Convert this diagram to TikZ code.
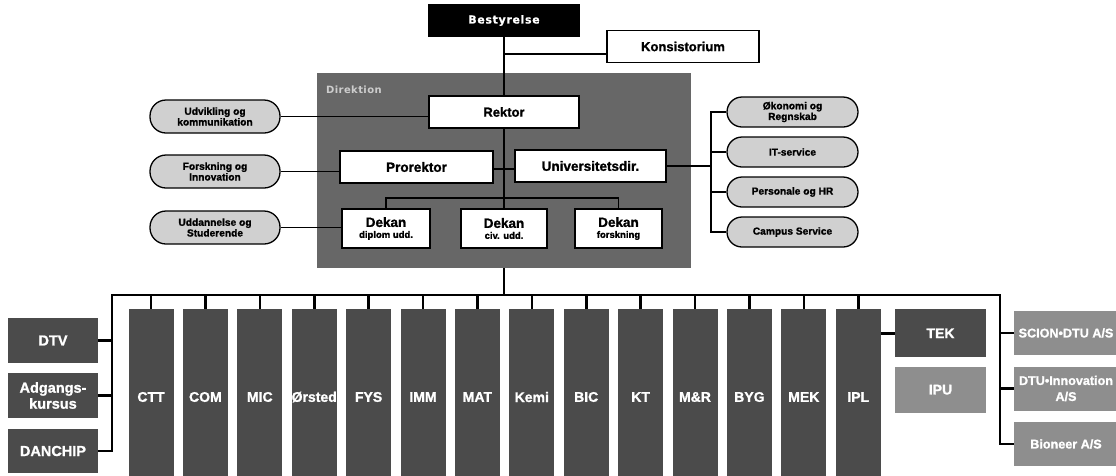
\documentclass[tikz,border=0pt]{standalone}
\usepackage{fontspec}
\setmainfont{Liberation Sans}[BoldFeatures={FakeBold=1.2}]
\newfontfamily\dejasp[LetterSpace=6,BoldFeatures={FakeBold=0.6}]{DejaVu Sans}
\newfontfamily\deja[LetterSpace=4]{DejaVu Sans}
\definecolor{colgray}{HTML}{4B4B4B}
\definecolor{dirgray}{HTML}{676767}
\definecolor{lightbox}{HTML}{8E8E8E}
\definecolor{pillgray}{HTML}{D0D0D0}
\definecolor{dirlabel}{HTML}{CDCDCD}
\tikzset{
  wbox/.style={draw=black, line width=1.6pt, fill=white, inner sep=0pt, align=center},
  pill/.style={draw=black, line width=1.3pt, fill=pillgray, inner sep=0pt, align=center,
    minimum width=130pt, font=\bfseries\fontsize{10.2}{10.7}\selectfont},
  colbox/.style={fill=colgray, inner sep=0pt, minimum width=45pt, minimum height=176pt,
    text=white, font=\bfseries\fontsize{14}{16}\selectfont},
  sidebox/.style={fill=colgray, inner sep=0pt, minimum width=90pt, minimum height=45pt,
    text=white, align=center, font=\bfseries\fontsize{14.5}{16}\selectfont},
  litebox/.style={fill=lightbox, inner sep=0pt, text=white, align=center},
  conn/.style={line width=1.5pt, draw=black},
  bar/.style={line width=2.6pt, draw=black, line join=miter},
}
\begin{document}
\begin{tikzpicture}[x=1pt,y=-1pt]
\useasboundingbox (0,0) rectangle (1116,475);
\clip (0,0) rectangle (1116,475);
\fill[white] (0,0) rectangle (1116,475);

% Direktion area
\node[fill=dirgray, inner sep=0pt, minimum width=374pt, minimum height=195pt] (dir) at (504,170.5) {};
\node[anchor=base west, inner sep=0pt, text=dirlabel, font=\deja\bfseries\fontsize{10}{12}\selectfont] (dirlbl) at (326,93) {Direktion};

% top
\node[fill=black, inner sep=0pt, minimum width=152pt, minimum height=33pt, text=white,
  font=\dejasp\bfseries\fontsize{11}{12}\selectfont] (best) at (504,20.5) {Bestyrelse};
\node[wbox, minimum width=152pt, minimum height=32pt, font=\bfseries\fontsize{13}{15}\selectfont] (kons) at (683,46.5) {Konsistorium};
\node[wbox, minimum width=150pt, minimum height=32pt, font=\bfseries\fontsize{13}{15}\selectfont] (rektor) at (504,112) {Rektor};
\node[wbox, minimum width=153pt, minimum height=32pt, font=\bfseries\fontsize{13.5}{15}\selectfont] (pro) at (416.5,167) {Prorektor};
\node[wbox, minimum width=151pt, minimum height=32pt, font=\bfseries\fontsize{13.5}{15}\selectfont] (uni) at (590.5,166) {Universitetsdir.};

\node[wbox, minimum width=88pt, minimum height=39pt] (dip) at (386,228.5)
  {{\fontsize{13.5}{14}\selectfont\bfseries Dekan}\\[-1pt]{\fontsize{9.5}{10}\selectfont\bfseries diplom udd.}};
\node[wbox, minimum width=86pt, minimum height=39pt] (civ) at (504,228.5)
  {{\fontsize{13.5}{14}\selectfont\bfseries Dekan}\\[-1pt]{\fontsize{9.5}{10}\selectfont\bfseries civ. udd.}};
\node[wbox, minimum width=87pt, minimum height=39pt] (fors) at (618.5,228.5)
  {{\fontsize{13.5}{14}\selectfont\bfseries Dekan}\\[-1pt]{\fontsize{9.5}{10}\selectfont\bfseries forskning}};

% left pills
\node[pill, minimum height=33pt, rounded corners=16pt] (p1) at (215,116.5) {Udvikling og\\kommunikation};
\node[pill, minimum height=33pt, rounded corners=16pt] (p2) at (215,171.5) {Forskning og\\Innovation};
\node[pill, minimum height=33pt, rounded corners=16pt] (p3) at (215,227.5) {Uddannelse og\\Studerende};

% right pills
\node[pill, minimum width=131pt, minimum height=30pt, rounded corners=15pt] (r1) at (792.5,112) {Økonomi og\\Regnskab};
\node[pill, minimum width=131pt, minimum height=30pt, rounded corners=15pt] (r2) at (792.5,152) {IT-service};
\node[pill, minimum width=131pt, minimum height=30pt, rounded corners=15pt] (r3) at (792.5,192) {Personale og HR};
\node[pill, minimum width=131pt, minimum height=30pt, rounded corners=15pt] (r4) at (792.5,232) {Campus Service};

% top connectors
\coordinate (kj) at (504,54);
\coordinate (cross) at (504,169);
\coordinate (dbar) at (504,198);
\coordinate (rb) at (711,168);
\draw[conn] (best.south) -- (rektor.north);
\draw[conn] (kj) -- (kj -| kons.west);
\draw[conn] (rektor.south) -- (civ.north);
\draw[conn] (cross -| pro.east) -- (cross -| uni.west);
\draw[conn] (dip.north) -- (dip.north |- dbar) -- (fors.north |- dbar) -- (fors.north);
\draw[conn] (p1.east) -- (p1.east -| rektor.west);
\draw[conn] (p2.east) -- (p2.east -| pro.west);
\draw[conn] (p3.east) -- (p3.east -| dip.west);
\draw[conn] (uni.east) -- (uni.east -| rb);
\draw[conn] (r1.west) -- (r1.west -| rb) -- (r4.west -| rb) -- (r4.west);
\draw[conn] (r2.west) -- (r2.west -| rb);
\draw[conn] (r3.west) -- (r3.west -| rb);

% bottom
\coordinate (hub) at (504,295);
\coordinate (barL) at (112,295);
\coordinate (barR) at (1000,295);

\node[sidebox] (dtv) at (53,340.5) {DTV};
\node[sidebox, font=\bfseries\fontsize{14.5}{16}\selectfont] (adg) at (53,395.5) {Adgangs-\\kursus};
\node[sidebox, minimum height=44pt] (danchip) at (53,451) {DANCHIP};

\foreach \lab [count=\i from 0] in {CTT,COM,MIC,Ørsted,FYS,IMM,MAT,Kemi,BIC,KT,M\&R,BYG,MEK,IPL} {
  \node[colbox] (c\i) at ({151+54.4*\i},397) {\lab};
  \draw[bar] (c\i.north) -- (c\i.north |- barL);
}

\node[fill=colgray, inner sep=0pt, minimum width=91pt, minimum height=48pt, text=white,
  font=\bfseries\fontsize{14}{16}\selectfont] (tek) at (940.5,333.3) {TEK};
\node[litebox, minimum width=91pt, minimum height=46pt, font=\bfseries\fontsize{14}{16}\selectfont] (ipu) at (940.5,389.7) {IPU};

\node[litebox, minimum width=104pt, minimum height=44pt, font=\bfseries\fontsize{12.6}{16}\selectfont] (scion) at (1066,333) {SCION•DTU A/S};
\node[litebox, minimum width=104pt, minimum height=44pt, font=\bfseries\fontsize{12.6}{16}\selectfont] (dtuinn) at (1066,388.5) {DTU•Innovation\\A/S};
\node[litebox, minimum width=104pt, minimum height=44pt, font=\bfseries\fontsize{12.6}{16}\selectfont] (bion) at (1066,444) {Bioneer A/S};

\draw[conn] (dir.south) -- (hub);
\draw[bar] (danchip.east) -- (danchip.east -| barL) -- (barL) -- (barR) -- (barR |- bion.west) -- (bion.west);
\draw[bar] (dtv.east) -- (dtv.east -| barL);
\draw[bar] (adg.east) -- (adg.east -| barL);
\draw[bar] (scion.west) -- (scion.west -| barR);
\draw[bar] (dtuinn.west) -- (dtuinn.west -| barR);
\draw[bar] (c13.east |- tek.west) -- (tek.west);
\end{tikzpicture}
\end{document}
